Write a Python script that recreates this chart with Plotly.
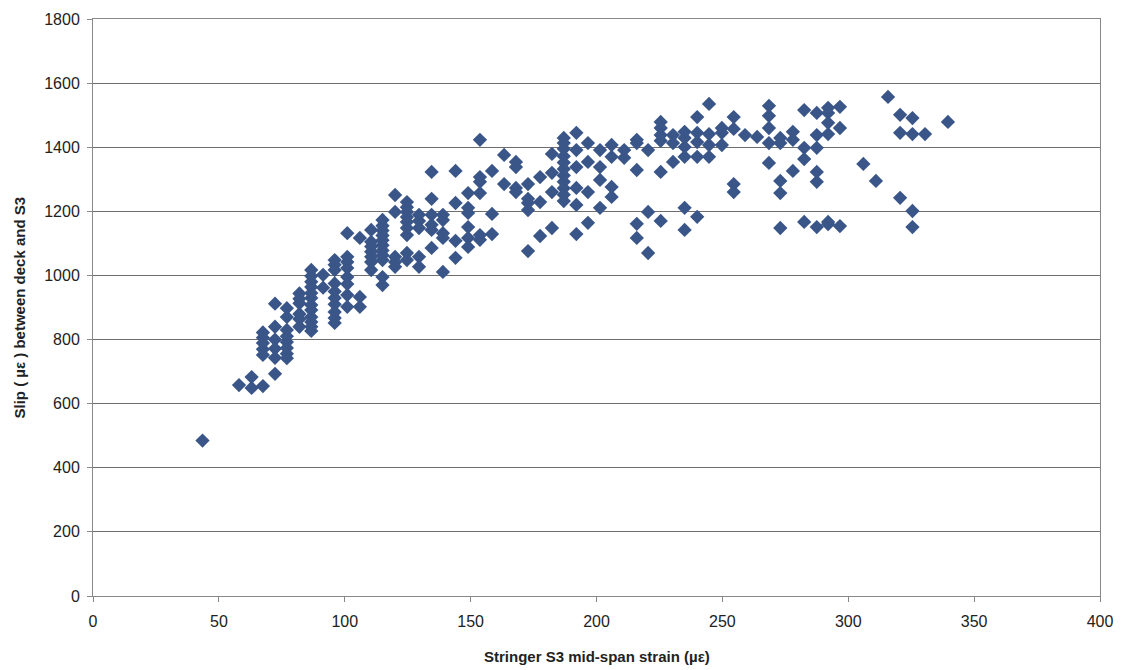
import plotly.graph_objects as go

# Column-wise data: strain value (x) and slip values (y)
strain_cols = [43.5, 58, 63, 67.5, 72.3, 77, 82, 86.7, 91.4, 96, 101, 106, 110.5, 115, 120,
               124.7, 129.5, 134.5, 139, 144, 149, 153.7, 158.5, 163.3, 168, 172.8, 177.6,
               182.3, 187, 192, 196.6, 201.4, 206, 211, 216, 220.5, 225.5, 230.4, 235, 240,
               244.7, 249.8, 254.5, 259, 263.8, 268.5, 273, 278, 282.5, 287.5, 292, 296.7,
               306, 311, 315.8, 320.6, 325.5, 330.5, 339.6]

slip_cols = [
    [485],
    [658],
    [683, 649],
    [655, 822, 806, 789, 770, 752],
    [693, 912, 840, 800, 772, 743],
    [898, 870, 830, 810, 792, 774, 756, 742],
    [944, 927, 913, 880, 864, 840],
    [1017, 998, 980, 964, 945, 930, 908, 892, 870, 855, 840, 827],
    [1002, 962],
    [1048, 1033, 1017, 975, 950, 930, 910, 886, 867, 852],
    [1132, 1058, 1042, 1023, 995, 973, 939, 902],
    [1117, 933, 902],
    [1142, 1105, 1090, 1074, 1058, 1042, 1017],
    [1173, 1155, 1140, 1125, 1110, 1094, 1078, 1063, 1048, 995, 970],
    [1251, 1198, 1058, 1042, 1027],
    [1229, 1213, 1198, 1182, 1167, 1148, 1126, 1070, 1048],
    [1189, 1170, 1148, 1058, 1027],
    [1323, 1239, 1189, 1158, 1142, 1086],
    [1189, 1173, 1132, 1117, 1011],
    [1326, 1226, 1108, 1055],
    [1257, 1211, 1195, 1151, 1117, 1089],
    [1423, 1307, 1292, 1257, 1126, 1111],
    [1326, 1192, 1129],
    [1376, 1285],
    [1354, 1338, 1273, 1260],
    [1285, 1239, 1226, 1204, 1076],
    [1307, 1229, 1123],
    [1379, 1320, 1260, 1148],
    [1429, 1413, 1395, 1372, 1352, 1332, 1312, 1292, 1272, 1252, 1232],
    [1445, 1391, 1338, 1273, 1220, 1129],
    [1413, 1354, 1260, 1164],
    [1391, 1338, 1298, 1211],
    [1407, 1370, 1276, 1245],
    [1391, 1367],
    [1423, 1413, 1329, 1161, 1117],
    [1391, 1198, 1070],
    [1479, 1460, 1438, 1420, 1323, 1170],
    [1438, 1413, 1354],
    [1448, 1429, 1401, 1370, 1211, 1142],
    [1494, 1445, 1416, 1370, 1183],
    [1535, 1441, 1407, 1370],
    [1460, 1445, 1407],
    [1494, 1457, 1285, 1260],
    [1438],
    [1432],
    [1529, 1498, 1460, 1413, 1351],
    [1429, 1413, 1295, 1257, 1148],
    [1448, 1423, 1326],
    [1516, 1398, 1363, 1167],
    [1507, 1438, 1398, 1323, 1292, 1151],
    [1523, 1507, 1476, 1441, 1167, 1160],
    [1526, 1460, 1154],
    [1348],
    [1295],
    [1557],
    [1501, 1445, 1242],
    [1491, 1441, 1201, 1151],
    [1441],
    [1479],
]

x_ticks = [0, 50, 100, 150, 200, 250, 300, 350, 400]
y_ticks = [0, 200, 400, 600, 800, 1000, 1200, 1400, 1600, 1800]

x_title = "Stringer S3 mid-span strain (µε)"
y_title = "Slip ( µε ) between deck and S3"

xs, ys = [], []
for sx, col in zip(strain_cols, slip_cols):
    for v in col:
        xs.append(sx)
        ys.append(v)

fig = go.Figure()
fig.add_trace(go.Scatter(
    x=xs, y=ys, mode="markers",
    marker=dict(symbol="diamond", size=11, color="#3a5689", line=dict(width=0)),
    showlegend=False,
))

tick_font = dict(family="Liberation Sans, Arial, sans-serif", size=16, color="#222222")
title_font = dict(family="Liberation Sans, Arial, sans-serif", size=15, color="#222222")

fig.update_layout(
    width=1114, height=662,
    margin=dict(l=85, r=22, t=11, b=74),
    paper_bgcolor="white", plot_bgcolor="white",
    xaxis=dict(
        range=[0, 400], tickvals=x_ticks, ticktext=[str(t) for t in x_ticks],
        showgrid=False, zeroline=False, automargin=False,
        showline=True, linecolor="#888888", linewidth=1, mirror=True,
        ticks="outside", ticklen=5, tickcolor="#888888",
        ticklabelstandoff=6,
        tickfont=tick_font,
    ),
    yaxis=dict(
        range=[0, 1800], tickvals=y_ticks, ticktext=[str(t) for t in y_ticks],
        showgrid=True, gridcolor="#6e6e6e", gridwidth=1, zeroline=False, automargin=False,
        showline=True, linecolor="#888888", linewidth=1, mirror=True,
        ticks="outside", ticklen=5, tickcolor="#888888",
        ticklabelstandoff=4,
        tickfont=tick_font,
    ),
    annotations=[
        dict(text="<b>" + x_title + "</b>", xref="paper", yref="paper",
             x=0.5, y=-60 / 577, xanchor="center", yanchor="middle",
             showarrow=False, font=title_font),
        dict(text="<b>" + y_title + "</b>", xref="paper", yref="paper",
             x=-74 / 1007, y=0.5, xanchor="center", yanchor="middle",
             textangle=-90, showarrow=False, font=title_font),
    ],
)

fig.write_html("out.html")
